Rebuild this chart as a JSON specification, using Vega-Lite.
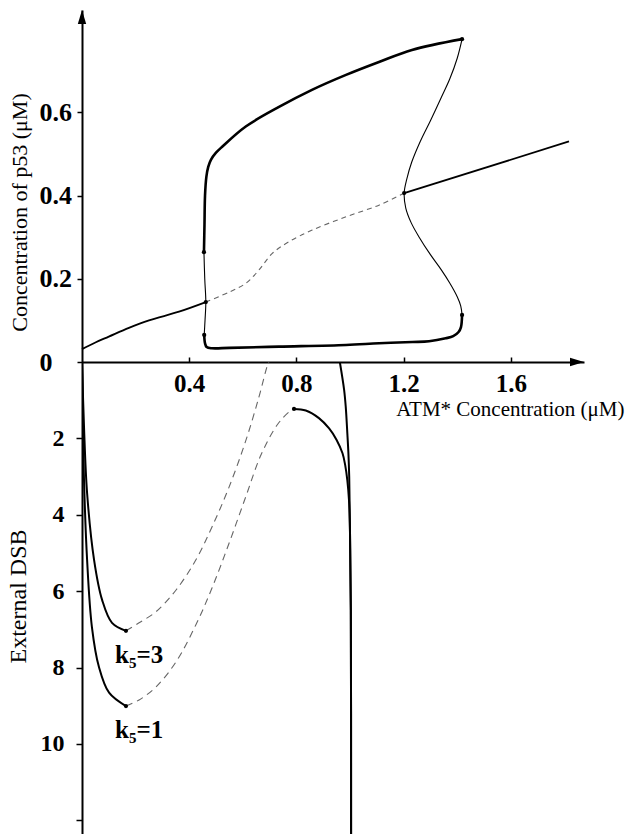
{
  "$schema": "https://vega.github.io/schema/vega-lite/v6.json",
  "padding": {"left": 6, "top": 10, "right": 1, "bottom": 0},
  "bounds": "flush",
  "spacing": 0,
  "config": {
    "font": "Liberation Serif, Times New Roman, DejaVu Serif, serif",
    "view": {"stroke": null},
    "axis": {"grid": false, "domainColor": "black", "domainWidth": 2, "tickColor": "black", "tickWidth": 1.5,
      "labelFont": "Liberation Serif, Times New Roman, DejaVu Serif, serif", "titleFont": "Liberation Serif, Times New Roman, DejaVu Serif, serif", "labelColor": "black", "titleColor": "black",
      "labelFontWeight": "bold", "titleFontWeight": "normal", "labelOverlap": false, "labelFlush": false}
  },
  "datasets": {
    "top": [
      {"c":"eq_low","i":0,"x":0,"p53":0.031},{"c":"eq_low","i":1,"x":0.05,"p53":0.047},{"c":"eq_low","i":2,"x":0.1,"p53":0.061},{"c":"eq_low","i":3,"x":0.175,"p53":0.082},{"c":"eq_low","i":4,"x":0.25,"p53":0.1},{"c":"eq_low","i":5,"x":0.362,"p53":0.121},{"c":"eq_low","i":6,"x":0.462,"p53":0.144},
      {"c":"eq_uns","i":0,"x":0.462,"p53":0.144},{"c":"eq_uns","i":1,"x":0.549,"p53":0.168},{"c":"eq_uns","i":2,"x":0.611,"p53":0.189},{"c":"eq_uns","i":3,"x":0.66,"p53":0.221},{"c":"eq_uns","i":4,"x":0.71,"p53":0.261},{"c":"eq_uns","i":5,"x":0.772,"p53":0.289},{"c":"eq_uns","i":6,"x":0.859,"p53":0.317},{"c":"eq_uns","i":7,"x":0.985,"p53":0.349},{"c":"eq_uns","i":8,"x":1.108,"p53":0.377},{"c":"eq_uns","i":9,"x":1.202,"p53":0.406},
      {"c":"eq_high","i":0,"x":1.202,"p53":0.406},{"c":"eq_high","i":1,"x":1.817,"p53":0.53},
      {"c":"orb_up","i":0,"x":0.455,"p53":0.264},{"c":"orb_up","i":1,"x":0.457,"p53":0.33},{"c":"orb_up","i":2,"x":0.459,"p53":0.4},{"c":"orb_up","i":3,"x":0.464,"p53":0.445},{"c":"orb_up","i":4,"x":0.471,"p53":0.469},{"c":"orb_up","i":5,"x":0.481,"p53":0.486},{"c":"orb_up","i":6,"x":0.5,"p53":0.503},{"c":"orb_up","i":7,"x":0.524,"p53":0.518},{"c":"orb_up","i":8,"x":0.611,"p53":0.566},{"c":"orb_up","i":9,"x":0.735,"p53":0.613},{"c":"orb_up","i":10,"x":0.858,"p53":0.654},{"c":"orb_up","i":11,"x":0.985,"p53":0.69},{"c":"orb_up","i":12,"x":1.108,"p53":0.721},{"c":"orb_up","i":13,"x":1.231,"p53":0.75},{"c":"orb_up","i":14,"x":1.418,"p53":0.776},
      {"c":"orb_right","i":0,"x":1.418,"p53":0.776},{"c":"orb_right","i":1,"x":1.4,"p53":0.73},{"c":"orb_right","i":2,"x":1.372,"p53":0.68},{"c":"orb_right","i":3,"x":1.34,"p53":0.635},{"c":"orb_right","i":4,"x":1.3,"p53":0.58},{"c":"orb_right","i":5,"x":1.262,"p53":0.53},{"c":"orb_right","i":6,"x":1.23,"p53":0.48},{"c":"orb_right","i":7,"x":1.212,"p53":0.44},{"c":"orb_right","i":8,"x":1.202,"p53":0.406},{"c":"orb_right","i":9,"x":1.208,"p53":0.37},{"c":"orb_right","i":10,"x":1.228,"p53":0.335},{"c":"orb_right","i":11,"x":1.258,"p53":0.3},{"c":"orb_right","i":12,"x":1.3,"p53":0.258},{"c":"orb_right","i":13,"x":1.34,"p53":0.222},{"c":"orb_right","i":14,"x":1.372,"p53":0.19},{"c":"orb_right","i":15,"x":1.4,"p53":0.157},{"c":"orb_right","i":16,"x":1.413,"p53":0.135},{"c":"orb_right","i":17,"x":1.418,"p53":0.113},
      {"c":"orb_low","i":0,"x":1.418,"p53":0.113},{"c":"orb_low","i":1,"x":1.414,"p53":0.084},{"c":"orb_low","i":2,"x":1.405,"p53":0.072},{"c":"orb_low","i":3,"x":1.385,"p53":0.062},{"c":"orb_low","i":4,"x":1.357,"p53":0.057},{"c":"orb_low","i":5,"x":1.295,"p53":0.05},{"c":"orb_low","i":6,"x":1.233,"p53":0.048},{"c":"orb_low","i":7,"x":1.108,"p53":0.045},{"c":"orb_low","i":8,"x":0.985,"p53":0.041},{"c":"orb_low","i":9,"x":0.735,"p53":0.037},{"c":"orb_low","i":10,"x":0.55,"p53":0.034},{"c":"orb_low","i":11,"x":0.485,"p53":0.033},{"c":"orb_low","i":12,"x":0.465,"p53":0.036},{"c":"orb_low","i":13,"x":0.459,"p53":0.045},{"c":"orb_low","i":14,"x":0.456,"p53":0.065},
      {"c":"orb_left","i":0,"x":0.455,"p53":0.264},{"c":"orb_left","i":1,"x":0.458,"p53":0.2},{"c":"orb_left","i":2,"x":0.462,"p53":0.144},{"c":"orb_left","i":3,"x":0.459,"p53":0.1},{"c":"orb_left","i":4,"x":0.456,"p53":0.065}
    ],
    "topdots": [
      {"x":0.455,"p53":0.264},{"x":0.462,"p53":0.144},{"x":0.456,"p53":0.065},{"x":1.418,"p53":0.776},{"x":1.418,"p53":0.113},{"x":1.202,"p53":0.406}
    ],
    "toparrow": [{"x":0,"p53":0.846}],
    "bottom": [
      {"c":"k3_solid","i":0,"x":0,"dsb":0},{"c":"k3_solid","i":1,"x":0.0075,"dsb":1.7},{"c":"k3_solid","i":2,"x":0.019,"dsb":3.43},{"c":"k3_solid","i":3,"x":0.045,"dsb":5.18},{"c":"k3_solid","i":4,"x":0.075,"dsb":6.23},{"c":"k3_solid","i":5,"x":0.112,"dsb":6.83},{"c":"k3_solid","i":6,"x":0.164,"dsb":7.04},
      {"c":"k3_dash","i":0,"x":0.164,"dsb":7.04},{"c":"k3_dash","i":1,"x":0.213,"dsb":6.83},{"c":"k3_dash","i":2,"x":0.276,"dsb":6.54},{"c":"k3_dash","i":3,"x":0.351,"dsb":5.97},{"c":"k3_dash","i":4,"x":0.425,"dsb":5.18},{"c":"k3_dash","i":5,"x":0.485,"dsb":4.32},{"c":"k3_dash","i":6,"x":0.549,"dsb":3.27},{"c":"k3_dash","i":7,"x":0.612,"dsb":2.04},{"c":"k3_dash","i":8,"x":0.66,"dsb":0.92},{"c":"k3_dash","i":9,"x":0.69,"dsb":0.13},{"c":"k3_dash","i":10,"x":0.697,"dsb":0},
      {"c":"k3_upper","i":0,"x":0.962,"dsb":0},{"c":"k3_upper","i":1,"x":0.978,"dsb":0.73},{"c":"k3_upper","i":2,"x":0.984,"dsb":1.17},{"c":"k3_upper","i":3,"x":0.99,"dsb":1.87},{"c":"k3_upper","i":4,"x":0.994,"dsb":2.39},{"c":"k3_upper","i":5,"x":0.997,"dsb":3.0},{"c":"k3_upper","i":6,"x":1.0,"dsb":4.5},{"c":"k3_upper","i":7,"x":1.003,"dsb":6.5},{"c":"k3_upper","i":8,"x":1.004,"dsb":12.36},
      {"c":"k1_solid","i":0,"x":0,"dsb":0},{"c":"k1_solid","i":1,"x":0.004,"dsb":1.78},{"c":"k1_solid","i":2,"x":0.0075,"dsb":3.09},{"c":"k1_solid","i":3,"x":0.019,"dsb":5.18},{"c":"k1_solid","i":4,"x":0.037,"dsb":6.94},{"c":"k1_solid","i":5,"x":0.063,"dsb":7.98},{"c":"k1_solid","i":6,"x":0.101,"dsb":8.66},{"c":"k1_solid","i":7,"x":0.164,"dsb":9.01},
      {"c":"k1_dash","i":0,"x":0.164,"dsb":9.01},{"c":"k1_dash","i":1,"x":0.213,"dsb":8.85},{"c":"k1_dash","i":2,"x":0.276,"dsb":8.51},{"c":"k1_dash","i":3,"x":0.351,"dsb":7.85},{"c":"k1_dash","i":4,"x":0.425,"dsb":6.88},{"c":"k1_dash","i":5,"x":0.485,"dsb":5.92},{"c":"k1_dash","i":6,"x":0.549,"dsb":4.74},{"c":"k1_dash","i":7,"x":0.612,"dsb":3.51},{"c":"k1_dash","i":8,"x":0.668,"dsb":2.43},{"c":"k1_dash","i":9,"x":0.728,"dsb":1.65},{"c":"k1_dash","i":10,"x":0.772,"dsb":1.31},{"c":"k1_dash","i":11,"x":0.791,"dsb":1.23},
      {"c":"k1_upper","i":0,"x":0.791,"dsb":1.23},{"c":"k1_upper","i":1,"x":0.835,"dsb":1.27},{"c":"k1_upper","i":2,"x":0.884,"dsb":1.47},{"c":"k1_upper","i":3,"x":0.922,"dsb":1.74},{"c":"k1_upper","i":4,"x":0.95,"dsb":2.04},{"c":"k1_upper","i":5,"x":0.972,"dsb":2.39},{"c":"k1_upper","i":6,"x":0.982,"dsb":2.7},{"c":"k1_upper","i":7,"x":0.99,"dsb":3.1},{"c":"k1_upper","i":8,"x":0.996,"dsb":3.6},{"c":"k1_upper","i":9,"x":1.0,"dsb":4.5},{"c":"k1_upper","i":10,"x":1.003,"dsb":6.5},{"c":"k1_upper","i":11,"x":1.004,"dsb":12.36}
    ],
    "botdots": [{"x":0.164,"dsb":7.04},{"x":0.164,"dsb":9.01},{"x":0.791,"dsb":1.23}],
    "botlabels": [{"label":"k₅=3","x":0.213,"dsb":7.67},{"label":"k₅=1","x":0.213,"dsb":9.63}],
    "botarrow": [{"x":1.873,"dsb":0}]
  },
  "vconcat": [
    {
      "width": 502,
      "height": 352,
      "encoding": {
        "x": {"field": "x", "type": "quantitative", "scale": {"domain": [0, 1.873], "nice": false, "zero": false}, "axis": null},
        "y": {"field": "p53", "type": "quantitative", "scale": {"domain": [0, 0.846], "nice": false},
          "axis": {"title": "Concentration of p53 (μM)", "values": [0, 0.2, 0.4, 0.6],
            "labelExpr": "datum.value === 0 ? '0' : format(datum.value, '.1f')",
            "labelFontSize": 26, "labelAlign": "left", "labelBaseline": "middle", "labelPadding": 38, "tickSize": 5,
            "titleFontSize": 22, "titleX": -63, "titleY": 202, "titleAngle": -90, "titleAlign": "center", "titleBaseline": "middle"}}
      },
      "layer": [
        {"data": {"name": "top"}, "transform": [{"filter": "datum.c === 'eq_low' || datum.c === 'eq_high'"}],
          "mark": {"type": "line", "color": "black", "strokeWidth": 1.8, "interpolate": "catmull-rom"},
          "encoding": {"detail": {"field": "c"}, "order": {"field": "i", "type": "quantitative"}}},
        {"data": {"name": "top"}, "transform": [{"filter": "datum.c === 'eq_uns'"}],
          "mark": {"type": "line", "color": "#666666", "strokeWidth": 1.1, "strokeDash": [5, 4], "interpolate": "catmull-rom"},
          "encoding": {"order": {"field": "i", "type": "quantitative"}}},
        {"data": {"name": "top"}, "transform": [{"filter": "datum.c === 'orb_up' || datum.c === 'orb_low'"}],
          "mark": {"type": "line", "color": "black", "strokeWidth": 2.6, "interpolate": "catmull-rom"},
          "encoding": {"detail": {"field": "c"}, "order": {"field": "i", "type": "quantitative"}}},
        {"data": {"name": "top"}, "transform": [{"filter": "datum.c === 'orb_right' || datum.c === 'orb_left'"}],
          "mark": {"type": "line", "color": "black", "strokeWidth": 1.1, "interpolate": "catmull-rom"},
          "encoding": {"detail": {"field": "c"}, "order": {"field": "i", "type": "quantitative"}}},
        {"data": {"name": "topdots"}, "mark": {"type": "point", "filled": true, "color": "black", "opacity": 1, "size": 18}},
        {"data": {"name": "toparrow"}, "mark": {"type": "point", "shape": "M0,0L-0.3,1L0.3,1Z", "filled": true, "color": "black", "opacity": 1, "size": 784}}
      ]
    },
    {
      "width": 502,
      "height": 472,
      "encoding": {
        "x": {"field": "x", "type": "quantitative", "scale": {"domain": [0, 1.873], "nice": false, "zero": false},
          "axis": {"orient": "top", "title": "ATM* Concentration (μM)", "values": [0.4, 0.8, 1.2, 1.6],
            "labelExpr": "format(datum.value, '.1f')", "labelFontSize": 25, "labelBaseline": "middle", "labelPadding": -26, "tickSize": 5,
            "titleFontSize": 21, "titleX": 542, "titleY": 47, "titleAlign": "right", "titleBaseline": "middle", "titleAngle": 0}},
        "y": {"field": "dsb", "type": "quantitative", "scale": {"domain": [0, 12.36], "nice": false, "reverse": true},
          "axis": {"title": "External DSB", "values": [2, 4, 6, 8, 10, 12],
            "labelExpr": "datum.value === 12 ? '' : datum.label",
            "labelFontSize": 24, "labelAlign": "right", "labelBaseline": "middle", "labelPadding": 12, "tickSize": 6,
            "titleFontSize": 24, "titleX": -64, "titleY": 234, "titleAngle": -90, "titleAlign": "center", "titleBaseline": "middle"}}
      },
      "layer": [
        {"data": {"name": "bottom"}, "transform": [{"filter": "indexof(datum.c, 'dash') < 0"}],
          "mark": {"type": "line", "color": "black", "strokeWidth": 2, "clip": true, "interpolate": "catmull-rom"},
          "encoding": {"detail": {"field": "c"}, "order": {"field": "i", "type": "quantitative"}}},
        {"data": {"name": "bottom"}, "transform": [{"filter": "indexof(datum.c, 'dash') >= 0"}],
          "mark": {"type": "line", "color": "#666666", "strokeWidth": 1.1, "strokeDash": [7, 5], "clip": true, "interpolate": "catmull-rom"},
          "encoding": {"detail": {"field": "c"}, "order": {"field": "i", "type": "quantitative"}}},
        {"data": {"name": "botdots"}, "mark": {"type": "point", "filled": true, "color": "black", "opacity": 1, "size": 18}},
        {"data": {"name": "botlabels"}, "mark": {"type": "text", "font": "Liberation Serif, Times New Roman, DejaVu Serif, serif", "fontSize": 25, "fontWeight": "bold", "color": "black", "align": "center", "baseline": "middle"},
          "encoding": {"text": {"field": "label"}}},
        {"data": {"name": "botarrow"}, "mark": {"type": "point", "shape": "M0,0L-1,-0.3L-1,0.3Z", "filled": true, "color": "black", "opacity": 1, "size": 784}}
      ]
    }
  ]
}
